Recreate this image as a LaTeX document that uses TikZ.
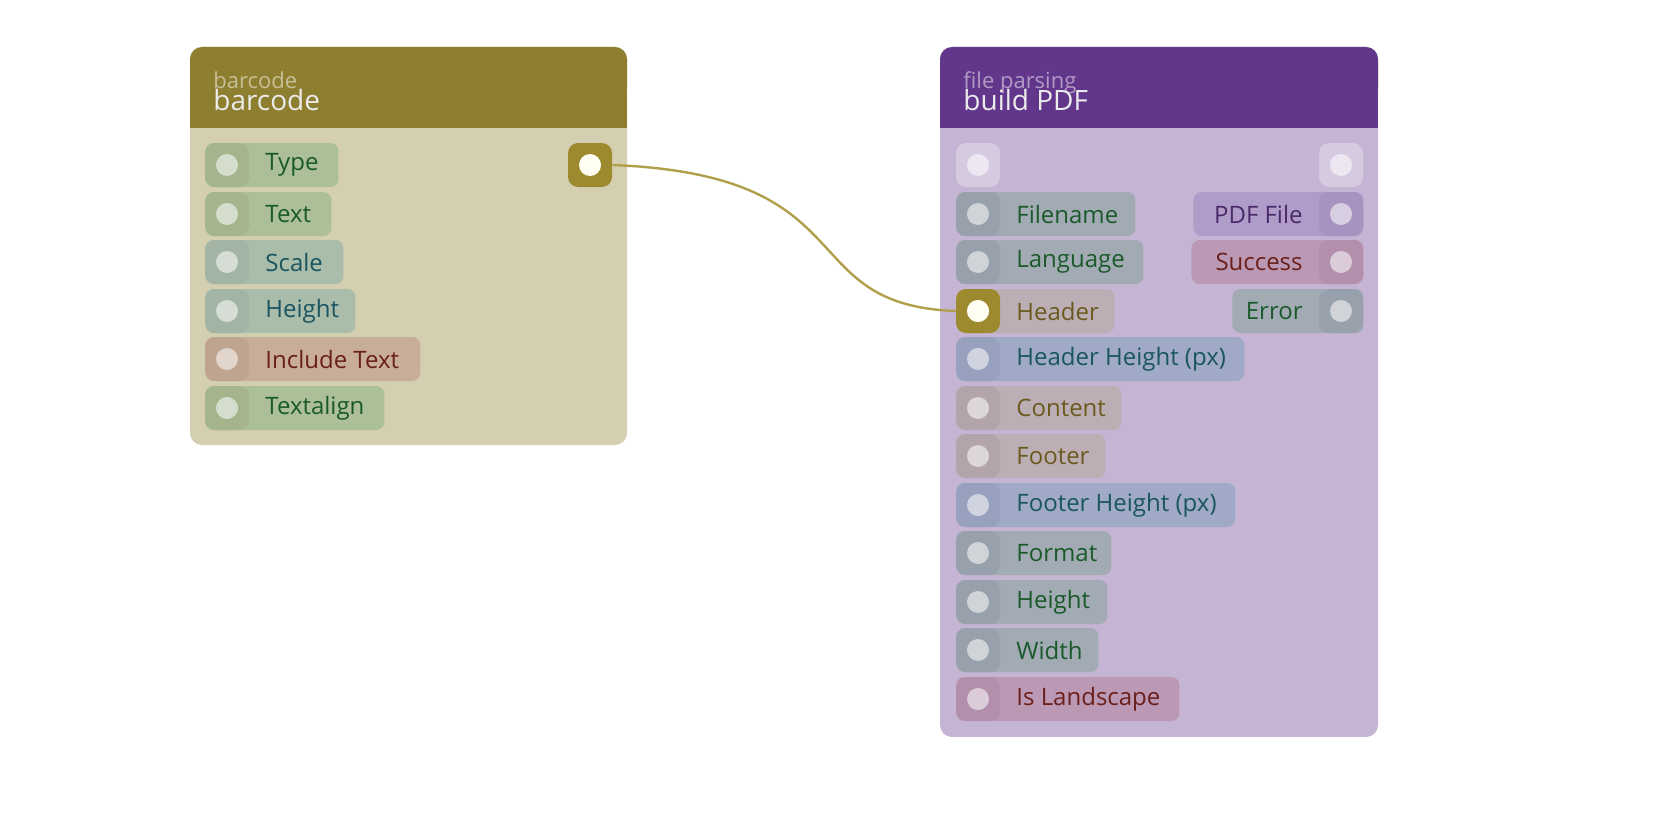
\documentclass[tikz,border=0pt]{standalone}
\usepackage{fontspec}
\setmainfont{Open Sans}
\usetikzlibrary{positioning}
\definecolor{goldhead}{HTML}{8E7F30}
\definecolor{goldbody}{HTML}{D5CFB1}
\definecolor{goldport}{HTML}{9D8A2E}
\definecolor{purphead}{HTML}{62368A}
\definecolor{purpbody}{HTML}{C5B4D3}
\definecolor{wire}{HTML}{B0A04C}
\definecolor{txtgreen}{HTML}{1A5A2A}
\definecolor{txtteal}{HTML}{1A5560}
\definecolor{txtred}{HTML}{6A1F1A}
\definecolor{txtgold}{HTML}{6B5A1E}
\definecolor{txtpurp}{HTML}{4A2A6A}
\definecolor{pgreen}{HTML}{ACBF98}\definecolor{qgreen}{HTML}{A4B58E}
\definecolor{pteal}{HTML}{AABCAA}\definecolor{qteal}{HTML}{A2B4A4}
\definecolor{pred}{HTML}{C8AE98}\definecolor{qred}{HTML}{BFA590}
\definecolor{pgrey}{HTML}{A2AAB4}\definecolor{qgrey}{HTML}{98A0AC}
\definecolor{pbrown}{HTML}{BCAEB5}\definecolor{qbrown}{HTML}{B3A4AC}
\definecolor{pblue}{HTML}{A0AAC6}\definecolor{qblue}{HTML}{97A1BD}
\definecolor{ppurp}{HTML}{B09CC8}\definecolor{qpurp}{HTML}{A893C0}
\definecolor{prose}{HTML}{BB98B4}\definecolor{qrose}{HTML}{B290AC}
\tikzset{
  pill/.style={rounded corners=4pt, minimum height=22pt, inner sep=0pt},
  port/.style={rounded corners=5pt, minimum width=22pt, minimum height=22pt, inner sep=0pt},
  dot/.style={circle, fill=white, fill opacity=0.55, minimum size=11pt, inner sep=0pt},
  lbl/.style={font=\fontsize{12}{14}\selectfont, inner sep=0pt},
  title/.style={font=\fontsize{14}{16}\selectfont, text=white!92!black, inner sep=0pt, anchor=base west},
  subtitle/.style={font=\fontsize{11}{13}\selectfont, inner sep=0pt, anchor=base west, opacity=0.8},
}
% input pin: name, x0, x1, y, fill, port fill, text colour, label
\newcommand\inpin[8]{%
  \node[pill, fill=#5, minimum width={(#3-#2)*0.5pt}, anchor=west] (#1) at (#2,#4) {};
  \node[port, fill=#6] (#1-p) at ({#2+22},#4) {};
  \node[dot] at (#1-p) {};
  \node[lbl, text=#7, anchor=west] at ({#2+60},#4) {#8};}
% output pin: same arguments, port on the right
\newcommand\outpin[8]{%
  \node[pill, fill=#5, minimum width={(#3-#2)*0.5pt}, anchor=west] (#1) at (#2,#4) {};
  \node[port, fill=#6] (#1-p) at ({#3-22},#4) {};
  \node[dot] at (#1-p) {};
  \node[lbl, text=#7, anchor=east] at ({#3-60},#4) {#8};}
\begin{document}
\begin{tikzpicture}[x=0.5pt, y=-0.5pt]
\useasboundingbox (0,0) rectangle (1680,840);

% barcode node
\fill[goldbody, rounded corners=6pt] (190,47) rectangle (627,445);
\fill[goldhead, rounded corners=6pt] (190,47) rectangle (627,100);
\fill[goldhead] (190,90) rectangle (627,128);
\node[subtitle, text=goldbody] (bcsub) at (213,89) {barcode};
\node[title] (bctitle) at (213,111) {barcode};
\inpin{type}{205}{338}{165}{pgreen}{qgreen}{txtgreen}{Type}
\inpin{text}{205}{331}{214}{pgreen}{qgreen}{txtgreen}{Text}
\inpin{scale}{205}{343}{262}{pteal}{qteal}{txtteal}{Scale}
\inpin{height}{205}{355}{311}{pteal}{qteal}{txtteal}{Height}
\inpin{inctext}{205}{420}{359}{pred}{qred}{txtred}{Include Text}
\inpin{talign}{205}{384}{408}{pgreen}{qgreen}{txtgreen}{Textalign}
\node[port, fill=goldport] (bcout) at (590,165) {};
\node[circle, fill=white!95!yellow, minimum size=11pt, inner sep=0pt] at (bcout) {};

% build PDF node
\fill[purpbody, rounded corners=6pt] (940,47) rectangle (1378,737);
\fill[purphead, rounded corners=6pt] (940,47) rectangle (1378,100);
\fill[purphead] (940,90) rectangle (1378,128);
\node[subtitle, text=purpbody] (pdfsub) at (963,89) {file parsing};
\node[title] (pdftitle) at (963,111) {build PDF};
\node[port, fill=white, fill opacity=0.3] (trigin) at (978,165) {};
\node[dot] at (trigin) {};
\node[port, fill=white, fill opacity=0.3] (trigout) at (1341,165) {};
\node[dot] at (trigout) {};
\inpin{fname}{956}{1135}{214}{pgrey}{qgrey}{txtgreen}{Filename}
\inpin{lang}{956}{1143}{262}{pgrey}{qgrey}{txtgreen}{Language}
\inpin{header}{956}{1114}{311}{pbrown}{goldport}{txtgold}{Header}
\node[circle, fill=white!95!yellow, minimum size=11pt, inner sep=0pt] at (header-p) {};
\inpin{hheight}{956}{1244}{359}{pblue}{qblue}{txtteal}{Header Height (px)}
\inpin{content}{956}{1121}{408}{pbrown}{qbrown}{txtgold}{Content}
\inpin{footer}{956}{1105}{456}{pbrown}{qbrown}{txtgold}{Footer}
\inpin{fheight}{956}{1235}{505}{pblue}{qblue}{txtteal}{Footer Height (px)}
\inpin{format}{956}{1111}{553}{pgrey}{qgrey}{txtgreen}{Format}
\inpin{pheight}{956}{1107}{602}{pgrey}{qgrey}{txtgreen}{Height}
\inpin{width}{956}{1098}{650}{pgrey}{qgrey}{txtgreen}{Width}
\inpin{landsc}{956}{1179}{699}{prose}{qrose}{txtred}{Is Landscape}
\outpin{pdffile}{1193}{1363}{214}{ppurp}{qpurp}{txtpurp}{PDF File}
\outpin{success}{1191}{1363}{262}{prose}{qrose}{txtred}{Success}
\outpin{error}{1232}{1363}{311}{pgrey}{qgrey}{txtgreen}{Error}

% connector
\draw[wire, line width=1.2pt] (bcout.east) .. controls (870,175) and (790,305) .. (header-p.west);
\end{tikzpicture}
\end{document}
